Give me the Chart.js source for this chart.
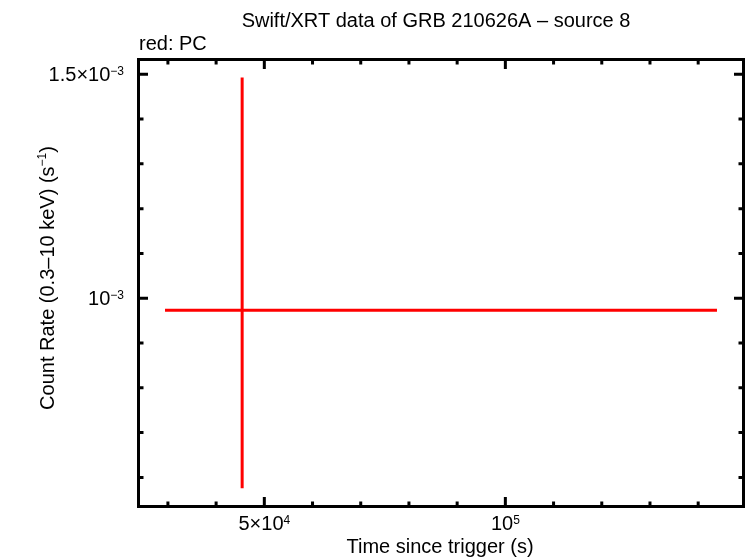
<!DOCTYPE html>
<html>
<head>
<meta charset="utf-8">
<script src="https://cdn.jsdelivr.net/npm/chart.js@4"></script>
<style>
  html, body { margin: 0; padding: 0; background: #fff; }
  #chart { display: block; }
</style>
</head>
<body>
<canvas id="chart" width="746" height="558"></canvas>
<script>
// Datos (PC, fuente 8)
const times = [45400];
const timeLo = [29400];
const timeHi = [143900];
const rates = [9.73e-4];
const rateLo = [5.76e-4];
const rateHi = [1.493e-3];

// Ejes y marcas
const xMin = 23900, xMax = 149400;
const yMin = 5.35e-4, yMax = 1.533e-3;
const xMajorTicks = [50000, 100000];
const xMajorLabels = [['5×10', '4'], ['10', '5']];
const xMinorTicks = [30000, 40000, 60000, 70000, 80000, 90000, 110000, 120000, 130000, 140000];
const yMajorTicks = [1.5e-3, 1e-3];
const yMajorLabels = [['1.5×10', '−3'], ['10', '−3']];
const yMinorTicks = [6e-4, 7e-4, 8e-4, 9e-4, 1.1e-3, 1.2e-3, 1.3e-3, 1.4e-3];

const FONT = '"Liberation Sans", Arial, Helvetica, sans-serif';
const RED = 'rgb(255, 0, 0)';

const errorBars = {
    id: 'errorBars',
    afterDatasetsDraw(chart) {
        const ctx = chart.ctx;
        const xs = chart.scales.x, ys = chart.scales.y;
        ctx.save();
        ctx.strokeStyle = RED;
        ctx.lineWidth = 3;
        times.forEach((t, i) => {
            const px = xs.getPixelForValue(t);
            const py = ys.getPixelForValue(rates[i]);
            ctx.beginPath();
            ctx.moveTo(xs.getPixelForValue(timeLo[i]), py);
            ctx.lineTo(xs.getPixelForValue(timeHi[i]), py);
            ctx.moveTo(px, ys.getPixelForValue(rateLo[i]));
            ctx.lineTo(px, ys.getPixelForValue(rateHi[i]));
            ctx.stroke();
        });
        ctx.restore();
    }
};

const frameAndText = {
    id: 'frameAndText',
    afterDraw(chart) {
        const ctx = chart.ctx;
        const a = chart.chartArea;
        const xs = chart.scales.x, ys = chart.scales.y;
        ctx.save();
        ctx.strokeStyle = '#000';
        ctx.fillStyle = '#000';
        ctx.lineWidth = 3;
        ctx.lineCap = 'butt';

        // marco
        ctx.strokeRect(a.left, a.top, a.right - a.left, a.bottom - a.top);

        // marcas hacia dentro
        const tick = (v, len, axis) => {
            ctx.beginPath();
            if (axis === 'x') {
                const p = xs.getPixelForValue(v);
                ctx.moveTo(p, a.bottom); ctx.lineTo(p, a.bottom - len);
                ctx.moveTo(p, a.top); ctx.lineTo(p, a.top + len);
            } else {
                const p = ys.getPixelForValue(v);
                ctx.moveTo(a.left, p); ctx.lineTo(a.left + len, p);
                ctx.moveTo(a.right, p); ctx.lineTo(a.right - len, p);
            }
            ctx.stroke();
        };
        xMajorTicks.forEach(v => tick(v, 9.5, 'x'));
        xMinorTicks.forEach(v => tick(v, 5, 'x'));
        yMajorTicks.forEach(v => tick(v, 9.5, 'y'));
        yMinorTicks.forEach(v => tick(v, 5, 'y'));

        const main = '20px ' + FONT;
        const sup = '12px ' + FONT;

        // etiquetas eje y
        yMajorTicks.forEach((v, i) => {
            const p = ys.getPixelForValue(v);
            const [m, s] = yMajorLabels[i];
            ctx.font = sup;
            const sw = ctx.measureText(s).width;
            ctx.textAlign = 'left';
            ctx.textBaseline = 'alphabetic';
            const right = 124;
            ctx.fillText(s, right - sw, p + 0.5);
            ctx.font = main;
            ctx.textAlign = 'right';
            ctx.fillText(m, right - sw, p + 6.5);
        });

        // etiquetas eje x
        xMajorTicks.forEach((v, i) => {
            const p = xs.getPixelForValue(v);
            const [m, s] = xMajorLabels[i];
            ctx.font = main;
            const mw = ctx.measureText(m).width;
            ctx.font = sup;
            const sw = ctx.measureText(s).width;
            const start = p - (mw + sw) / 2;
            ctx.textAlign = 'left';
            ctx.textBaseline = 'alphabetic';
            ctx.font = main;
            ctx.fillText(m, start, 529.5);
            ctx.font = sup;
            ctx.fillText(s, start + mw, 523.5);
        });

        // titulos
        ctx.font = main;
        ctx.textAlign = 'center';
        ctx.fillText('Swift/XRT data of GRB 210626A – source 8', 436, 26.5);
        ctx.fillText('Time since trigger (s)', 440, 553);
        ctx.textAlign = 'left';
        ctx.fillText('red: PC', 139, 49.5);

        // titulo eje y con superindice
        ctx.translate(53.5, 278);
        ctx.rotate(-Math.PI / 2);
        const yt = 'Count Rate (0.3–10 keV) (s';
        const ys1 = '−1';
        const ye = ')';
        ctx.font = main;
        const w1 = ctx.measureText(yt).width;
        const w3 = ctx.measureText(ye).width;
        ctx.font = sup;
        const w2 = ctx.measureText(ys1).width;
        let x0 = -(w1 + w2 + w3) / 2;
        ctx.font = main;
        ctx.fillText(yt, x0, 0);
        ctx.font = sup;
        ctx.fillText(ys1, x0 + w1, -7.5);
        ctx.font = main;
        ctx.fillText(ye, x0 + w1 + w2, 0);
        ctx.restore();
    }
};

new Chart(document.getElementById('chart'), {
    type: 'scatter',
    data: {
        datasets: [{
            label: 'PC',
            data: times.map((t, i) => ({ x: t, y: rates[i] })),
            pointRadius: 0,
            showLine: false,
        }],
    },
    options: {
        responsive: false,
        animation: false,
        devicePixelRatio: 1,
        layout: {
            padding: { left: 138.5, right: 2.5, top: 59.5, bottom: 51.5 },
        },
        plugins: {
            legend: { display: false },
            tooltip: { enabled: false },
        },
        scales: {
            x: { type: 'linear', min: xMin, max: xMax, display: false },
            y: { type: 'linear', min: yMin, max: yMax, display: false },
        },
    },
    plugins: [errorBars, frameAndText],
});
</script>
</body>
</html>
